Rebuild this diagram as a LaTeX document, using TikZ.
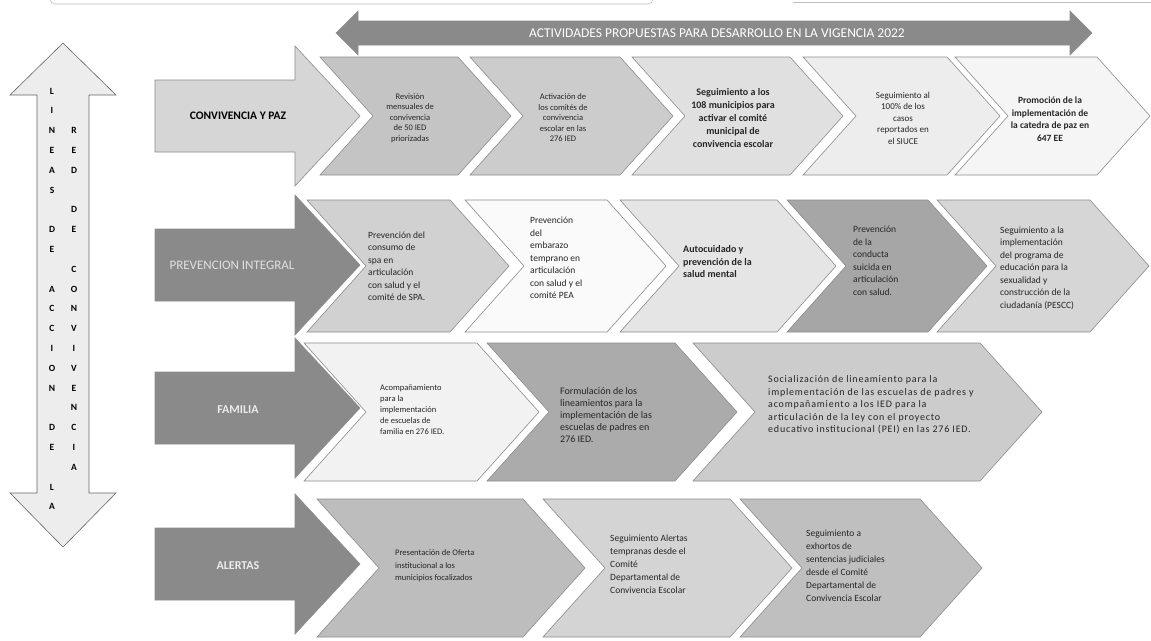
\documentclass[tikz,border=0pt]{standalone}
\usepackage{fontspec}
\setmainfont{Carlito}
\newfontfamily\spacedfont[LetterSpace=8]{Carlito}
\definecolor{edge}{HTML}{8C8C8C}
\definecolor{catdark}{HTML}{8A8A8A}
\definecolor{catlight}{HTML}{D6D6D6}
\definecolor{toparrow}{HTML}{8A8A8A}
\definecolor{vfill}{HTML}{EDEDED}
\tikzset{
  shp/.style={draw=edge, line width=0.6pt, line join=miter},
  lbl/.style={font=\fontsize{9.5}{12.5}\selectfont, align=left, anchor=west, inner sep=0pt, text=black!85},
  ctr/.style={font=\fontsize{8.5}{10.5}\selectfont, align=center, inner sep=0pt, text=black!85},
  catlbl/.style={font=\fontsize{12}{14}\selectfont, inner sep=0pt},
  vletter/.style={font=\bfseries\fontsize{9.5}{10}\selectfont, inner sep=0pt},
  frame/.style={draw=black!25, line width=0.6pt}
}
\newcommand\chev[6]{% left x, top-right x, y centre, half height, point depth, fill
  \filldraw[shp, fill=#6] (#1,#3-#4) -- (#2,#3-#4) -- (#2+#5,#3) -- (#2,#3+#4) -- (#1,#3+#4) -- (#1+#5,#3) -- cycle;}
\newcommand\catarrow[2]{% y centre, fill
  \filldraw[shp, fill=#2] (155,#1-36) -- (295,#1-36) -- (295,#1-70) -- (360,#1) -- (295,#1+70) -- (295,#1+36) -- (155,#1+36) -- cycle;}
\begin{document}
\begin{tikzpicture}[x=1pt,y=-1pt]
\useasboundingbox (0,0) rectangle (1151,640);
\fill[white] (0,0) rectangle (1151,640);
% faint frames at top
\draw[frame, rounded corners=5] (50,-8) -- (50,4) -- (653,4) -- (653,-8);
\draw[frame] (793,2) -- (1151,2);

% top double arrow
\filldraw[shp, fill=toparrow] (336,33) -- (358,11) -- (358,21) -- (1070,21) -- (1070,11) -- (1092,33) -- (1070,55) -- (1070,45) -- (358,45) -- (358,55) -- cycle;
\node[font=\fontsize{13.5}{15}\selectfont, text=white, inner sep=0pt] (top) at (717,33) {ACTIVIDADES PROPUESTAS PARA DESARROLLO EN LA VIGENCIA 2022};

% vertical double arrow
\filldraw[shp, draw=black!60, fill=vfill] (63,43) -- (116,95) -- (89,95) -- (89,493) -- (116,493) -- (63,547) -- (10,493) -- (37,493) -- (37,95) -- (10,95) -- cycle;
\foreach \i/\c in {0/L,1/I,2/N,3/E,4/A,5/S,7/D,8/E,10/A,11/C,12/C,13/I,14/O,15/N,17/D,18/E,20/L,21/A}
  \node[vletter] (l\i) at (52,91+19.8*\i) {\c};
\foreach \i/\c in {2/R,3/E,4/D,6/D,7/E,9/C,10/O,11/N,12/V,13/I,14/V,15/E,16/N,17/C,18/I,19/A}
  \node[vletter] (r\i) at (74,91+19.8*\i) {\c};

% ---- row 1 : CONVIVENCIA Y PAZ
\catarrow{116}{catlight}
\chev{320}{458}{116}{59}{53}{black!23}
\chev{470}{620}{116}{59}{53}{black!20}
\chev{632}{790}{116}{59}{53}{black!12}
\chev{803}{947}{116}{59}{53}{black!7}
\chev{955}{1097}{116}{59}{53}{black!4}
\node[catlbl, font=\bfseries\fontsize{11.5}{14}\selectfont] (cat1) at (238,116) {CONVIVENCIA Y PAZ};
\node[ctr, font=\fontsize{8.5}{10.5}\selectfont] (r1a) at (410,118) {Revisión\\mensuales de\\convivencia\\de 50 IED\\priorizadas};
\node[ctr] (r1b) at (563,118) {Activación de\\los comités de\\convivencia\\escolar en las\\276 IED};
\node[ctr, font=\bfseries\fontsize{10}{13}\selectfont] (r1c) at (733,118) {Seguimiento a los\\108 municipios para\\activar el comité\\municipal de\\convivencia escolar};
\node[ctr, font=\fontsize{9}{11.5}\selectfont] (r1d) at (903,118) {Seguimiento al\\100\% de los\\casos\\reportados en\\el SIUCE};
\node[ctr, font=\bfseries\fontsize{9.5}{12.5}\selectfont] (r1e) at (1050,119) {Promoción de la\\implementación de\\la catedra de paz en\\647 EE};

% ---- row 2 : PREVENCION INTEGRAL
\catarrow{265}{catdark}
\chev{307}{450}{266}{66}{59}{black!18}
\chev{465}{607}{266}{66}{59}{black!2}
\chev{620}{777}{266}{66}{59}{black!10}
\chev{787}{928}{266}{66}{59}{black!35}
\chev{937}{1090}{266}{66}{59}{black!16}
\node[catlbl, font=\fontsize{13}{15}\selectfont, text=black!12] (cat2) at (232,265) {PREVENCION INTEGRAL};
\node[lbl] (r2a) at (368,266) {Prevención del\\consumo de\\spa en\\articulación\\con salud y el\\comité de SPA.};
\node[lbl] (r2b) at (530,258) {Prevención\\del\\embarazo\\temprano en\\articulación\\con salud y el\\comité PEA};
\node[lbl, font=\bfseries\fontsize{10}{12.5}\selectfont] (r2c) at (683,262) {Autocuidado y\\prevención de la\\salud mental};
\node[lbl] (r2d) at (853,261) {Prevención\\de la\\conducta\\suicida en\\articulación\\con salud.};
\node[lbl] (r2e) at (1000,268) {Seguimiento a la\\implementación\\del programa de\\educación para la\\sexualidad y\\construcción de la\\ciudadanía (PESCC)};

% ---- row 3 : FAMILIA
\catarrow{408}{catdark}
\chev{304}{477}{412}{69}{62}{black!5}
\chev{487}{675}{412}{69}{62}{black!33}
\chev{693}{980}{412}{69}{62}{black!20}
\node[catlbl, font=\bfseries\fontsize{12}{14}\selectfont, text=black!8] (cat3) at (238,410) {FAMILIA};
\node[lbl, font=\fontsize{8.5}{11}\selectfont] (r3a) at (380,410) {Acompañamiento\\para la\\implementación\\de escuelas de\\familia en 276 IED.};
\node[lbl, font=\fontsize{10}{12}\selectfont] (r3b) at (560,415) {Formulación de los\\lineamientos para la\\implementación de las\\escuelas de padres en\\276 IED.};
\node[lbl, font=\spacedfont\fontsize{10}{12.5}\selectfont] (r3c) at (768,405) {Socialización de lineamiento para la\\implementación de las escuelas de padres y\\acompañamiento a los IED para la\\articulación de la ley con el proyecto\\educativo institucional (PEI) en las 276 IED.};

% ---- row 4 : ALERTAS
\catarrow{564}{catdark}
\chev{317}{523}{568}{69}{62}{black!26}
\chev{543}{730}{568}{69}{62}{black!17}
\chev{740}{920}{568}{69}{62}{black!25}
\node[catlbl, font=\bfseries\fontsize{12}{14}\selectfont, text=black!8] (cat4) at (238,566) {ALERTAS};
\node[lbl, font=\fontsize{8.5}{12.5}\selectfont] (r4a) at (395,566) {Presentación de Oferta\\institucional a los\\municipios focalizados};
\node[lbl, font=\fontsize{9.5}{13}\selectfont] (r4b) at (610,564) {Seguimiento Alertas\\tempranas desde el\\Comité\\Departamental de\\Convivencia Escolar};
\node[lbl, font=\fontsize{9.5}{13}\selectfont] (r4c) at (806,566) {Seguimiento a\\exhortos de\\sentencias judiciales\\desde el Comité\\Departamental de\\Convivencia Escolar};
\end{tikzpicture}
\end{document}
